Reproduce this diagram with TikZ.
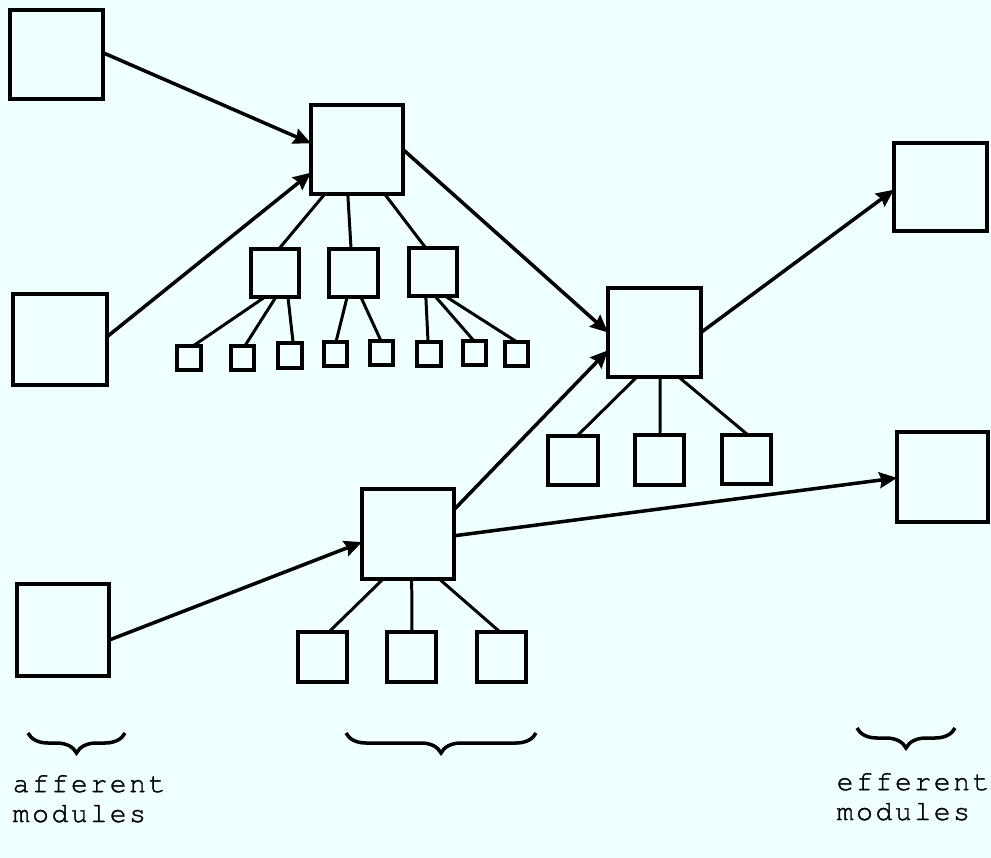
\documentclass[tikz,border=0pt]{standalone}
\usepackage{fontspec}
\newfontfamily\typw[Extension=.otf,LetterSpace=9,Ligatures=NoCommon,FakeBold=1.2]{texgyrecursor-regular}
\usetikzlibrary{calc,arrows.meta,decorations.pathreplacing}
\definecolor{bgc}{RGB}{240,255,255}
\newcommand\mybox[5]{\node[box, minimum width={(#4-#2)*0.01cm}, minimum height={(#5-#3)*0.01cm}] (#1) at ({(#2+#4)/2},{(#3+#5)/2}) {};}
\newcommand\treeln[4]{\draw[treeline] ($(#1.south west)!#2!(#1.south east)$) -- ($(#3.north west)!#4!(#3.north east)$);}
\newcommand\arrln[4]{\draw[arrowline] ($(#1.north east)!#2!(#1.south east)$) -- ($(#3.north west)!#4!(#3.south west)$);}
\begin{document}
\begin{tikzpicture}[x=0.01cm,y=-0.01cm,
  box/.style={draw, line width=1.1pt, inner sep=0pt, outer sep=0pt},
  arrowline/.style={line width=1pt, -{Stealth[length=5pt,width=4.5pt,inset=0.6pt]}},
  treeline/.style={line width=0.85pt},
  bracedeco/.style={decorate, decoration={brace, amplitude=0.2cm}, line width=1pt},
  lbl/.style={font=\typw\fontsize{8}{8.5}\selectfont, align=left, inner sep=0pt, anchor=base west}]
\fill[bgc] (0,0) rectangle (991,858);
\useasboundingbox (0,0) rectangle (991,858);
% afferent modules
\mybox{A1}{10}{10}{103}{99}
\mybox{A2}{13}{294}{107}{385}
\mybox{A3}{17}{584}{109}{676}
% central modules
\mybox{T}{311}{105}{403}{194}
\mybox{M}{608}{288}{701}{377}
\mybox{B}{362}{489}{454}{579}
% efferent modules
\mybox{E1}{894}{143}{987}{231}
\mybox{E2}{897}{432}{988}{522}
% subordinates of T
\mybox{S1}{251}{249}{299}{297}
\mybox{S2}{329}{249}{378}{297}
\mybox{S3}{409}{248}{457}{296}
% leaves
\mybox{L1}{177}{346}{201}{370}
\mybox{L2}{231}{346}{254}{370}
\mybox{L3}{278}{343}{302}{368}
\mybox{L4}{324}{342}{347}{366}
\mybox{L5}{370}{341}{393}{365}
\mybox{L6}{417}{342}{441}{366}
\mybox{L7}{463}{341}{486}{365}
\mybox{L8}{505}{342}{528}{366}
% subordinates of M
\mybox{C1}{548}{436}{598}{485}
\mybox{C2}{635}{435}{684}{485}
\mybox{C3}{722}{435}{771}{484}
% subordinates of B
\mybox{D1}{298}{632}{347}{682}
\mybox{D2}{387}{632}{436}{682}
\mybox{D3}{477}{632}{526}{682}
% arrows
\arrln{A1}{0.48}{T}{0.43}
\arrln{A2}{0.47}{T}{0.76}
\arrln{T}{0.5}{M}{0.5}
\arrln{B}{0.23}{M}{0.70}
\arrln{A3}{0.61}{B}{0.59}
\arrln{M}{0.5}{E1}{0.53}
\arrln{B}{0.52}{E2}{0.51}
% tree lines
\treeln{T}{0.15}{S1}{0.58}
\treeln{T}{0.40}{S2}{0.45}
\treeln{T}{0.80}{S3}{0.35}
\treeln{S1}{0.29}{L1}{0.67}
\treeln{S1}{0.52}{L2}{0.60}
\treeln{S1}{0.77}{L3}{0.63}
\treeln{S2}{0.37}{L4}{0.52}
\treeln{S2}{0.65}{L5}{0.48}
\treeln{S3}{0.35}{L6}{0.46}
\treeln{S3}{0.54}{L7}{0.48}
\treeln{S3}{0.75}{L8}{0.52}
\treeln{M}{0.31}{C1}{0.58}
\treeln{M}{0.56}{C2}{0.51}
\treeln{M}{0.76}{C3}{0.53}
\treeln{B}{0.23}{D1}{0.63}
\treeln{B}{0.54}{D2}{0.51}
\treeln{B}{0.84}{D3}{0.47}
% braces
\coordinate (b1r) at (125,733); \coordinate (b1l) at (28,733);
\coordinate (b2r) at (536,733); \coordinate (b2l) at (346,733);
\coordinate (b3r) at (955,728); \coordinate (b3l) at (857,728);
\draw[bracedeco] (b1r) -- (b1l);
\draw[bracedeco] (b2r) -- (b2l);
\draw[bracedeco] (b3r) -- (b3l);
% labels
\node[lbl] (aff) at (12,822) {afferent\\modules};
\node[lbl] (eff) at (836,820) {efferent\\modules};
\end{tikzpicture}
\end{document}
